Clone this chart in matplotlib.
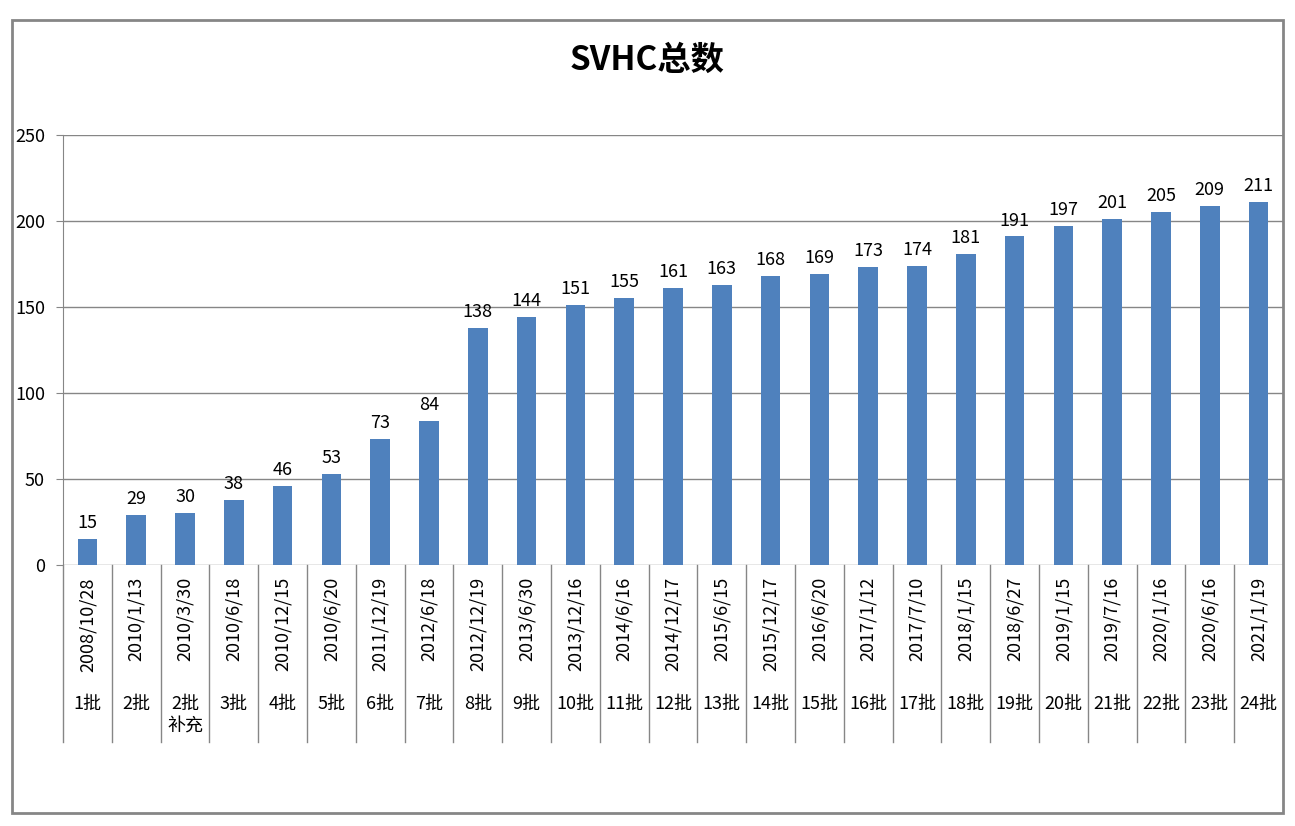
import numpy as np
import matplotlib
matplotlib.use("Agg")
import matplotlib.pyplot as plt
import matplotlib.transforms as mtransforms
from matplotlib.patches import Rectangle

plt.rcParams['font.family'] = ['Noto Sans CJK SC', 'DejaVu Sans']

# donnees
totaux = [15, 29, 30, 38, 46, 53, 73, 84, 138, 144, 151, 155, 161, 163, 168,
          169, 173, 174, 181, 191, 197, 201, 205, 209, 211]
dates = ["2008/10/28", "2010/1/13", "2010/3/30", "2010/6/18", "2010/12/15",
         "2010/6/20", "2011/12/19", "2012/6/18", "2012/12/19", "2013/6/30",
         "2013/12/16", "2014/6/16", "2014/12/17", "2015/6/15", "2015/12/17",
         "2016/6/20", "2017/1/12", "2017/7/10", "2018/1/15", "2018/6/27",
         "2019/1/15", "2019/7/16", "2020/1/16", "2020/6/16", "2021/1/19"]
lots = ["1批", "2批", "2批\n补充", "3批", "4批", "5批", "6批", "7批", "8批",
        "9批", "10批", "11批", "12批", "13批", "14批", "15批", "16批", "17批",
        "18批", "19批", "20批", "21批", "22批", "23批", "24批"]
yticks = [0, 50, 100, 150, 200, 250]

W, H = 1295, 826
gris = "#868686"
bleu = "#4F81BD"

fig = plt.figure(figsize=(W / 100, H / 100), dpi=100)
fig.patch.set_facecolor("white")

# cadre exterieur
fig.patches.append(Rectangle((12 / W, 1 - 813 / H), (1283 - 12) / W, (813 - 20) / H,
                             transform=fig.transFigure, fill=False,
                             edgecolor=gris, linewidth=2))

ax = fig.add_axes([63 / W, 1 - 565 / H, 1220 / W, 430 / H])
x = np.arange(len(totaux))
ax.bar(x, totaux, width=0.4, color=bleu, zorder=3)

ax.set_xlim(-0.5, len(totaux) - 0.5)
ax.set_ylim(0, 250)
ax.set_yticks(yticks)
ax.yaxis.grid(True, color=gris, linewidth=1, zorder=0)
ax.set_axisbelow(True)
for s in ["top", "right", "bottom"]:
    ax.spines[s].set_visible(False)
ax.spines["left"].set_color(gris)
ax.tick_params(axis="y", length=5, color=gris, labelsize=13, pad=8)
ax.set_xticks([])

# etiquettes de valeurs
for xi, v in zip(x, totaux):
    ax.annotate(str(v), (xi, v), xytext=(0, 5), textcoords="offset points",
                ha="center", va="bottom", fontsize=13)

# separateurs de categories et etiquettes
trans = mtransforms.blended_transform_factory(ax.transData, ax.transAxes)
bas = -(742 - 565) / 430
for k in range(len(totaux)):
    ax.plot([k - 0.5, k - 0.5], [0, bas], transform=trans, color=gris,
            linewidth=1, clip_on=False)
for xi, d, l in zip(x, dates, lots):
    ax.text(xi, -(577 - 565) / 430, d, transform=trans, rotation=90,
            ha="center", va="top", fontsize=13)
    ax.text(xi, -(695 - 565) / 430, l, transform=trans, ha="center",
            va="top", fontsize=13, linespacing=1.3)

fig.text(0.5, 1 - 60 / H, "SVHC总数", ha="center", va="center",
         fontsize=24, fontweight="bold")

fig.savefig("out.png", dpi=100)
